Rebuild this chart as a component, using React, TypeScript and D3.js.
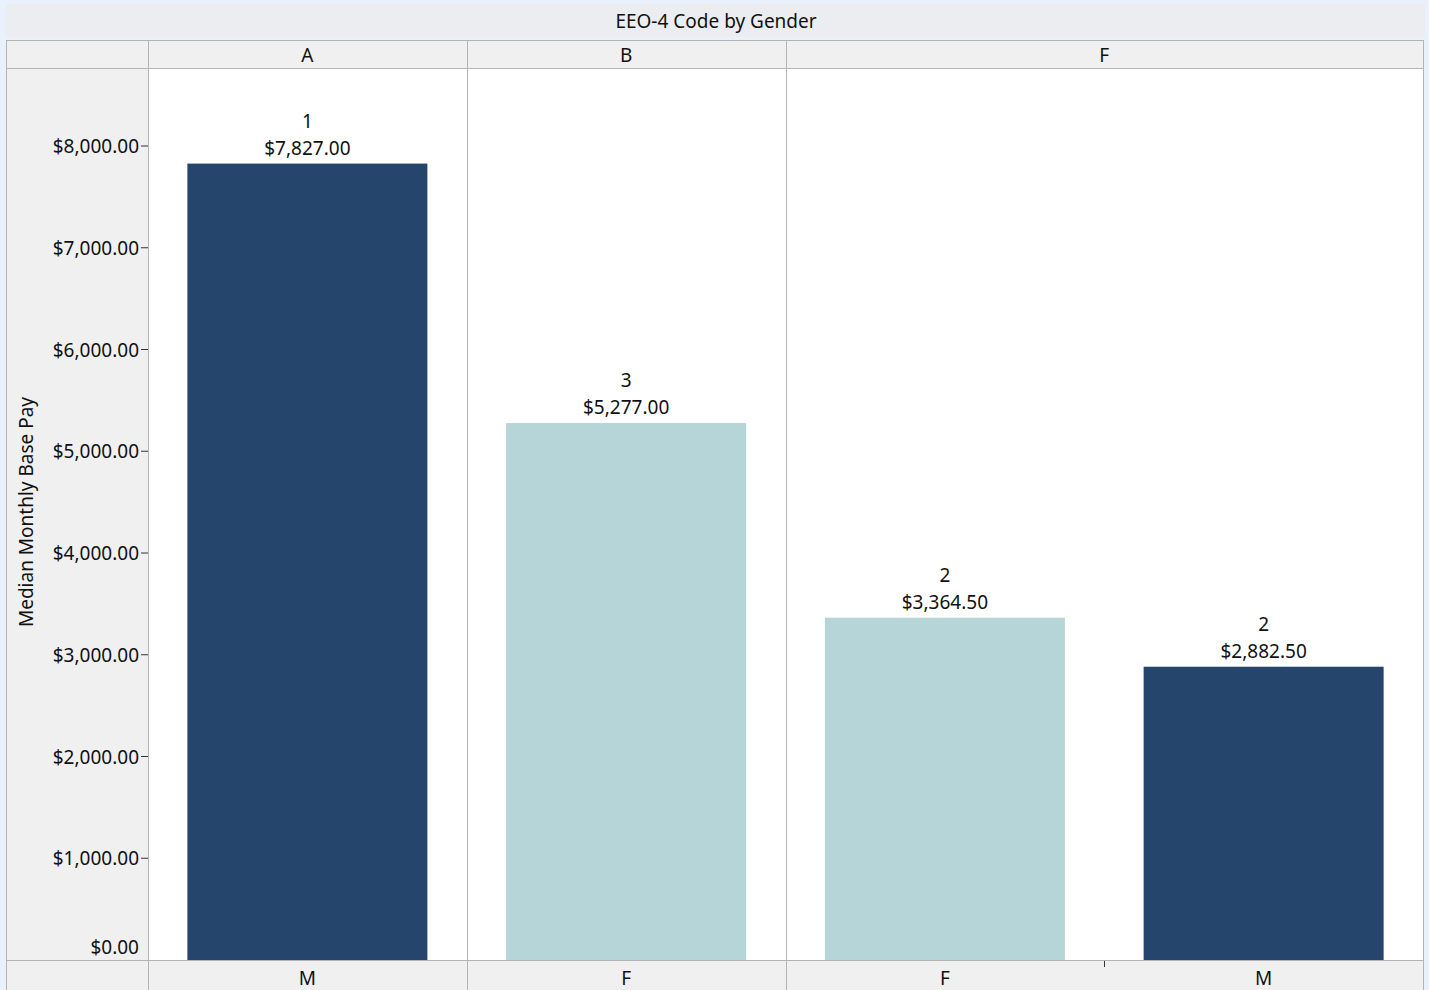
import React from "react";
import * as d3 from "d3";

const panels = ["A", "B", "F"];
const barPanel = ["A", "B", "F", "F"];
const barGender = ["M", "F", "F", "M"];
const medians = [7827, 5277, 3364.5, 2882.5];
const counts = [1, 3, 2, 2];
const yTicks = [0, 1000, 2000, 3000, 4000, 5000, 6000, 7000, 8000];
const genderColor: Record<string, string> = { M: "#26456d", F: "#b5d5d9" };

const W = 1429;
const H = 990;
const plotL = 148;
const plotR = 1423;
const plotT = 68;
const plotB = 960;
const FONT = "'Segoe UI', 'Noto Sans', sans-serif";
const FS = 19;
const border = "#b4b4b4";

export default function App() {
  const idx = medians.map((_, i) => String(i));
  const x = d3.scaleBand<string>().domain(idx).range([plotL, plotR]).paddingInner(0.247).paddingOuter(0.1235);
  const y = d3.scaleLinear().domain([0, 8000]).range([plotB, plotB - 8 * 101.75]);
  const step = x.step();
  const slotStart = (i: number) => plotL + i * step;
  const fmt = (v: number) => "$" + d3.format(",.2f")(v);

  const panelRanges = panels.map((p) => {
    const ids = barPanel.map((b, i) => (b === p ? i : -1)).filter((i) => i >= 0);
    return { p, x0: slotStart(d3.min(ids)!), x1: slotStart(d3.max(ids)! + 1) };
  });

  return (
    <svg width={W} height={H} style={{ position: "absolute", left: 0, top: 0 }} fontFamily={FONT}>
      <rect x={0} y={0} width={W} height={H} fill="#e9f2fc" />
      {/* title strip */}
      <rect x={6} y={4} width={1419} height={33} fill="#ebedf1" />
      <text x={716} y={28} textAnchor="middle" fontSize={FS} fill="#111">EEO-4 Code by Gender</text>
      {/* frame background */}
      <rect x={6.5} y={40.5} width={1417} height={H} fill="#f0f0f0" stroke={border} />
      {/* plot area */}
      <rect x={plotL} y={plotT} width={plotR - plotL} height={plotB - plotT} fill="#fff" />
      {/* header row line */}
      <line x1={6} x2={1424} y1={68.5} y2={68.5} stroke={border} />
      <line x1={6} x2={1424} y1={960.5} y2={960.5} stroke={border} />
      {/* panel separators & headers */}
      {panelRanges.map((r) => (
        <g key={r.p}>
          <line x1={Math.round(r.x0) + 0.5} x2={Math.round(r.x0) + 0.5} y1={41} y2={H} stroke={border} />
          <text x={(r.x0 + r.x1) / 2} y={62} textAnchor="middle" fontSize={FS} fill="#111">{r.p}</text>
        </g>
      ))}
      <line x1={plotR + 0.5} x2={plotR + 0.5} y1={41} y2={H} stroke={border} />
      {/* within-panel tick at bottom */}
      {barPanel.map((p, i) =>
        i > 0 && barPanel[i - 1] === p ? (
          <line key={"t" + i} x1={Math.round(slotStart(i)) + 0.5} x2={Math.round(slotStart(i)) + 0.5} y1={961} y2={967} stroke="#333" />
        ) : null
      )}
      {/* y axis */}
      {yTicks.map((t) => (
        <g key={t}>
          {t > 0 && <line x1={141} x2={148} y1={y(t)} y2={y(t)} stroke="#333" />}
          <text x={139} y={t === 0 ? y(t) - 6 : y(t) + 7} textAnchor="end" fontSize={FS} fill="#111">{fmt(t)}</text>
        </g>
      ))}
      <text transform={`translate(33,${512}) rotate(-90)`} textAnchor="middle" fontSize={FS} fill="#111">
        Median Monthly Base Pay
      </text>
      {/* bars */}
      {medians.map((v, i) => {
        const bx = x(String(i))!;
        const bw = x.bandwidth();
        const cx = bx + bw / 2;
        return (
          <g key={i}>
            <rect x={bx} y={y(v)} width={bw} height={plotB - y(v)} fill={genderColor[barGender[i]]} />
            <text x={cx} y={y(v) - 36} textAnchor="middle" fontSize={FS} fill="#111">{counts[i]}</text>
            <text x={cx} y={y(v) - 9} textAnchor="middle" fontSize={FS} fill="#111">{fmt(v)}</text>
            <text x={cx} y={985} textAnchor="middle" fontSize={FS} fill="#111">{barGender[i]}</text>
          </g>
        );
      })}
    </svg>
  );
}
